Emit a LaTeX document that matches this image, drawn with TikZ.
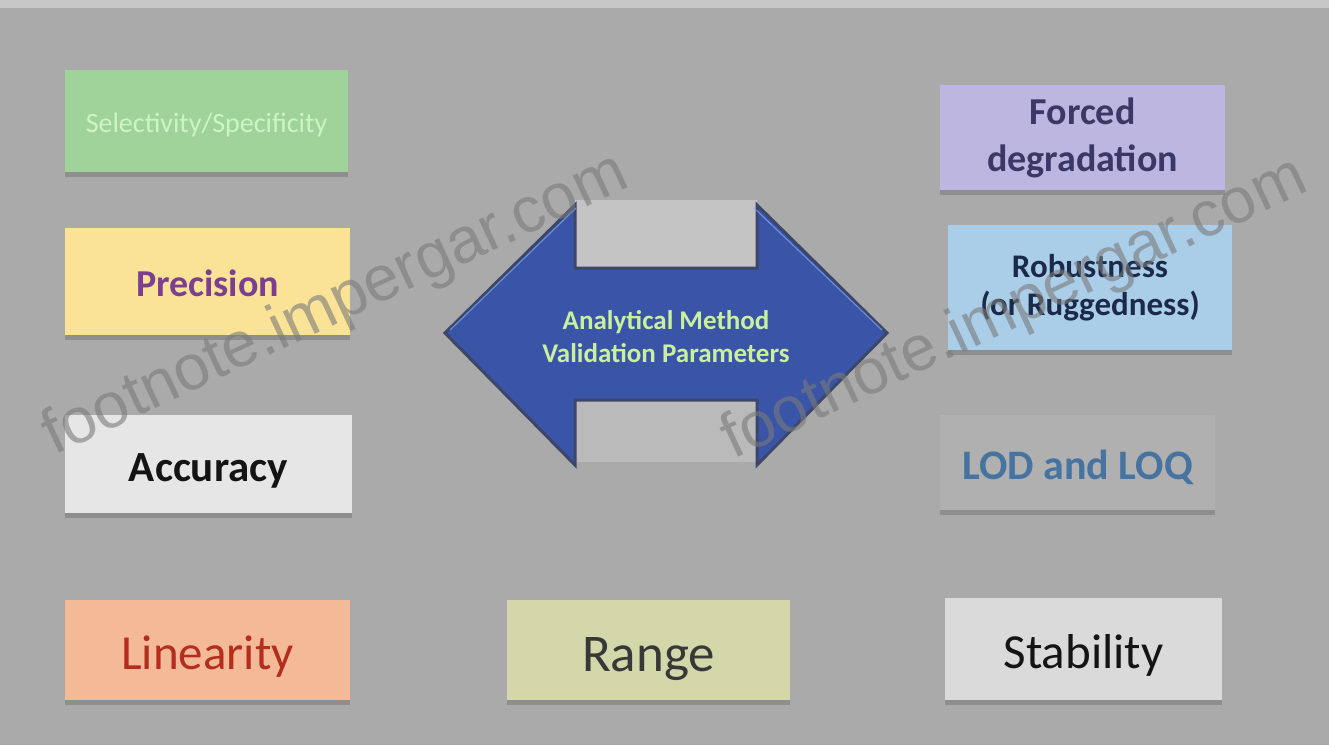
\documentclass[tikz,border=0pt]{standalone}
\usepackage{fontspec}
\setmainfont{Carlito}
\newfontfamily\wmfont{Liberation Sans}
\usetikzlibrary{shadows}
\definecolor{bg}{HTML}{AAAAAA}
\definecolor{shadowc}{HTML}{8E8E8E}
\definecolor{arrowblue}{HTML}{3A55A8}
\definecolor{arrowedge}{HTML}{3C4668}
\definecolor{arrowhi}{HTML}{7FA8F0}
\tikzset{
  box/.style={rectangle, inner sep=0pt, align=center, draw=none,
    drop shadow={shadow xshift=0pt, shadow yshift=-5pt, fill=shadowc, opacity=1}},
  oneline/.style={text height=#1, text depth=0pt},
  wm/.style={font=\wmfont\fontsize{64}{64}\selectfont, text=black!52, rotate=25, opacity=0.6}
}
\begin{document}
\begin{tikzpicture}[x=1pt,y=-1pt]
\useasboundingbox (0,0) rectangle (1329,745);
\fill[bg] (0,0) rectangle (1329,745);
\fill[black!22] (0,0) rectangle (1329,8);
% light patches around arrow shaft
\fill[black!23] (575,200) rectangle (757,268);
\fill[black!27] (575,400) rectangle (757,462);
% boxes
\node[box, oneline=22.4pt, fill={rgb,255:red,160;green,211;blue,154}, minimum width=283pt, minimum height=102pt,
  font=\fontsize{28}{28}\selectfont, text={rgb,255:red,205;green,245;blue,195}] (sel) at (206.5,121) {Selectivity/Specificity};
\node[box, oneline=30.4pt, fill={rgb,255:red,250;green,226;blue,150}, minimum width=285pt, minimum height=107pt,
  font=\bfseries\fontsize{38}{38}\selectfont, text={rgb,255:red,123;green,63;blue,145}] (prec) at (207.5,281.5) {Precision};
\node[box, oneline=34.4pt, fill={rgb,255:red,230;green,230;blue,230}, minimum width=287pt, minimum height=98pt,
  font=\bfseries\fontsize{43}{43}\selectfont, text=black!92] (acc) at (208.5,464) {Accuracy};
\node[box, oneline=39.2pt, fill={rgb,255:red,244;green,186;blue,152}, minimum width=285pt, minimum height=100pt,
  font=\fontsize{49}{49}\selectfont, text={rgb,255:red,180;green,45;blue,30}] (lin) at (207.5,650) {Linearity};
\node[box, oneline=42.4pt, fill={rgb,255:red,212;green,215;blue,170}, minimum width=283pt, minimum height=100pt,
  font=\fontsize{53}{53}\selectfont, text=black!78] (rng) at (648.5,650) {Range};
\node[box, oneline=39.2pt, fill={rgb,255:red,218;green,218;blue,218}, minimum width=277pt, minimum height=102pt,
  font=\fontsize{49}{49}\selectfont, text=black!92] (stab) at (1083.5,649) {Stability};
\node[box, oneline=33.6pt, fill={rgb,255:red,176;green,176;blue,176}, minimum width=275pt, minimum height=95pt,
  font=\bfseries\fontsize{42}{42}\selectfont, text={rgb,255:red,70;green,115;blue,160}] (lod) at (1077.5,462.5) {LOD and LOQ};
\node[box, fill={rgb,255:red,170;green,205;blue,232}, minimum width=284pt, minimum height=125pt,
  font=\bfseries\fontsize{33}{38}\selectfont, text={rgb,255:red,28;green,42;blue,74}] (rob) at (1090,287.5) {Robustness\\(or Ruggedness)};
\node[box, fill={rgb,255:red,188;green,182;blue,224}, minimum width=285pt, minimum height=105pt,
  font=\bfseries\fontsize{38}{47}\selectfont, text={rgb,255:red,59;green,55;blue,102}] (forced) at (1082.5,137.5) {Forced\\degradation};
% central double arrow
\coordinate (lt) at (445,333);
\coordinate (rt) at (887,333);
\filldraw[fill=arrowblue, draw=arrowedge, line width=3pt, line join=miter]
  (lt) -- (575,205) -- (575,268) -- (757,268) -- (757,205) -- (rt)
  -- (757,465) -- (757,400) -- (575,400) -- (575,465) -- cycle;
\draw[arrowhi, line width=1.2pt, opacity=0.7]
  (450,330) -- (576,208) (754,208) -- (882,330);
\node[font=\bfseries\fontsize{27}{33}\selectfont, text={rgb,255:red,200;green,240;blue,160}, align=center] (amv) at (666,337) {Analytical Method\\Validation Parameters};
% watermarks on top
\node[wm] (wm1) at (336,306) {footnote.impergar.com};
\node[wm] (wm2) at (1015,310) {footnote.impergar.com};
\end{tikzpicture}
\end{document}
